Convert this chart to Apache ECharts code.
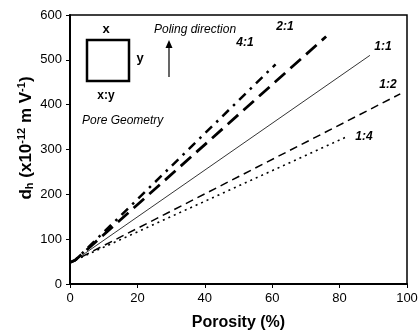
<!DOCTYPE html>
<html>
<head>
<meta charset="utf-8">
<script src="https://cdn.jsdelivr.net/npm/echarts@6/dist/echarts.min.js"></script>
<style>
  html, body { margin: 0; padding: 0; background: #fff; }
  #chart { width: 419px; height: 331px; }
</style>
</head>
<body>
<div id="chart"></div>
<script>
// porosity (%) vs d_h
var ratio41 = [[0, 48], [1.5, 53], [61, 490]];
var ratio21 = [[0, 48], [1.5, 53], [76, 552]];
var ratio11 = [[0, 48], [1.5, 53], [89, 510]];
var ratio12 = [[0, 48], [1.5, 53], [98, 424]];
var ratio14 = [[0, 48], [1.5, 53], [82, 328]];
var xTicks = [0, 20, 40, 60, 80, 100];
var yTicks = [0, 100, 200, 300, 400, 500, 600];

var font = "Liberation Sans, Arial, sans-serif";

function line(name, data, width, dash) {
  return {
    name: name,
    type: "line",
    data: data,
    symbol: "none",
    lineStyle: { color: "#000", width: width, type: dash, cap: "butt" }
  };
}

function label(text, x, y) {
  return { type: "text", x: x, y: y,
    style: { text: text, font: "italic bold 12px " + font, fill: "#000", align: "center", verticalAlign: "middle" } };
}

var chart = echarts.init(document.getElementById("chart"));
chart.setOption({
  animation: false,
  grid: {
    left: 70, right: 12, top: 15, bottom: 47,
    outerBoundsMode: "none",
    containLabel: false,
    show: true, borderColor: "#000", borderWidth: 1.5
  },
  xAxis: {
    type: "value",
    min: xTicks[0], max: xTicks[xTicks.length - 1], interval: 20,
    name: "Porosity (%)",
    nameLocation: "middle",
    nameGap: 31,
    nameTextStyle: { fontFamily: font, fontWeight: "bold", fontSize: 16, color: "#000" },
    axisLine: { lineStyle: { color: "#000", width: 2 } },
    axisTick: { inside: false, length: 4, lineStyle: { color: "#000" } },
    axisLabel: { fontFamily: font, fontSize: 13, color: "#000", margin: 8 },
    splitLine: { show: false }
  },
  yAxis: {
    type: "value",
    min: yTicks[0], max: yTicks[yTicks.length - 1], interval: 100,
    axisLine: { show: true, lineStyle: { color: "#000", width: 2 } },
    axisTick: { show: true, inside: false, length: 4, lineStyle: { color: "#000" } },
    axisLabel: { fontFamily: font, fontSize: 13, color: "#000", margin: 8 },
    splitLine: { show: false }
  },
  series: [
    line("4:1", ratio41, 2.5, [9, 6, 2.5, 6]),
    line("2:1", ratio21, 2.8, [14, 7]),
    line("1:1", ratio11, 0.8, "solid"),
    line("1:2", ratio12, 1.5, [8, 5]),
    line("1:4", ratio14, 1.6, [2, 4])
  ],
  graphic: [
    // y axis title, rotated
    { type: "text", x: 26, y: 138, rotation: Math.PI / 2,
      style: {
        text: "{b|d}{sub|h}{b| (x10}{sup|-12}{b| m V}{sup|-1}{b|)}",
        align: "center", verticalAlign: "middle",
        rich: {
          b: { font: "bold 17px " + font, fill: "#000" },
          sub: { font: "bold 11px " + font, fill: "#000", padding: [8, 0, 0, 0] },
          sup: { font: "bold 11px " + font, fill: "#000", padding: [0, 0, 9, 0] }
        }
      } },
    { type: "rect", shape: { x: 87, y: 40, width: 42, height: 41 },
      style: { fill: "none", stroke: "#000", lineWidth: 2.5 } },
    { type: "text", x: 106, y: 29, style: { text: "x", font: "bold 13px " + font, fill: "#000", align: "center", verticalAlign: "middle" } },
    { type: "text", x: 140, y: 58, style: { text: "y", font: "bold 13px " + font, fill: "#000", align: "center", verticalAlign: "middle" } },
    { type: "text", x: 106, y: 96, style: { text: "x:y", font: "bold 12px " + font, fill: "#000", align: "center", verticalAlign: "middle" } },
    { type: "text", x: 82, y: 121, style: { text: "Pore Geometry", font: "italic 12px " + font, fill: "#000", verticalAlign: "middle" } },
    { type: "text", x: 154, y: 30, style: { text: "Poling direction", font: "italic 12px " + font, fill: "#000", verticalAlign: "middle" } },
    { type: "line", shape: { x1: 169, y1: 77, x2: 169, y2: 46 }, style: { stroke: "#000", lineWidth: 1.2 } },
    { type: "polygon", shape: { points: [[169, 40], [165.5, 48], [172.5, 48]] }, style: { fill: "#000" } },
    label("4:1", 245, 43),
    label("2:1", 285, 27),
    label("1:1", 383, 47),
    label("1:2", 388, 85),
    label("1:4", 364, 137)
  ]
});
</script>
</body>
</html>
